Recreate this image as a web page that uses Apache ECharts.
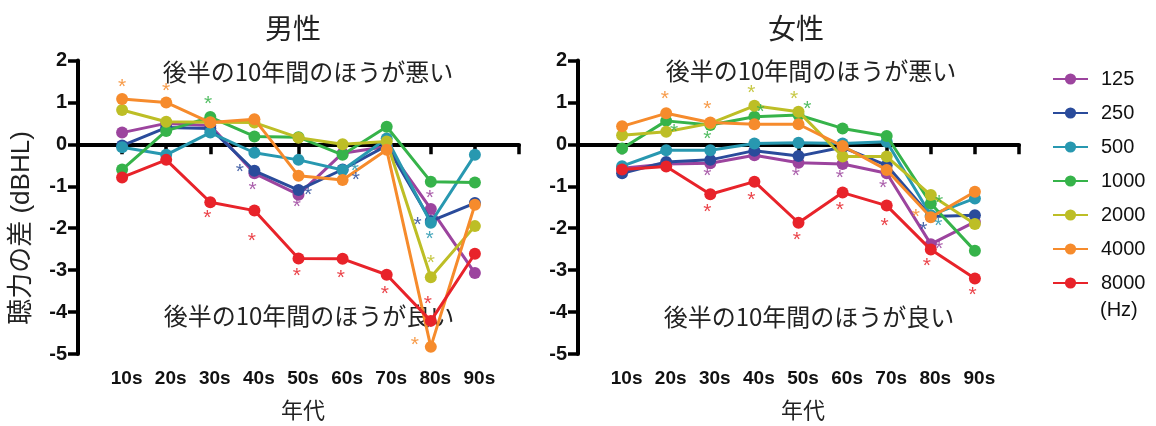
<!DOCTYPE html>
<html>
<head>
<meta charset="utf-8">
<script src="https://cdn.jsdelivr.net/npm/echarts@6/dist/echarts.min.js"></script>
<style>
  html, body { margin: 0; padding: 0; background: #fff; }
  #chart { width: 1156px; height: 426px; }
</style>
</head>
<body>
<div id="chart"></div>
<script>
// 年代 (x 軸のカテゴリ)
var categories = ['10s', '20s', '30s', '40s', '50s', '60s', '70s', '80s', '90s'];
var freqs = ['125', '250', '500', '1000', '2000', '4000', '8000'];
var yTicks = [-5, -4, -3, -2, -1, 0, 1, 2];

// 男性
var male125  = [0.28, 0.50, 0.45, -0.69, -1.20, -0.21, -0.05, -1.54, -3.07];
var male250  = [-0.03, 0.40, 0.38, -0.63, -1.09, -0.60, -0.03, -1.83, -1.40];
var male500  = [-0.07, -0.25, 0.28, -0.20, -0.37, -0.61, 0.14, -1.87, -0.25];
var male1000 = [-0.60, 0.32, 0.65, 0.19, 0.17, -0.25, 0.42, -0.89, -0.91];
var male2000 = [0.82, 0.54, 0.53, 0.52, 0.16, 0.00, 0.07, -3.17, -1.95];
var male4000 = [1.08, 1.00, 0.52, 0.60, -0.75, -0.85, -0.13, -4.83, -1.44];
var male8000 = [-0.79, -0.37, -1.38, -1.58, -2.72, -2.73, -3.11, -4.21, -2.61];

// 女性
var female125  = [-0.57, -0.47, -0.45, -0.26, -0.44, -0.47, -0.69, -2.38, -1.85];
var female250  = [-0.69, -0.42, -0.37, -0.15, -0.28, -0.07, -0.50, -1.72, -1.69];
var female500  = [-0.52, -0.14, -0.14, 0.02, 0.04, 0.02, 0.06, -1.69, -1.29];
var female1000 = [-0.10, 0.56, 0.46, 0.66, 0.70, 0.38, 0.20, -1.41, -2.54];
var female2000 = [0.22, 0.30, 0.50, 0.92, 0.78, -0.29, -0.29, -1.21, -1.90];
var female4000 = [0.43, 0.74, 0.52, 0.48, 0.48, -0.04, -0.61, -1.74, -1.13];
var female8000 = [-0.60, -0.53, -1.19, -0.89, -1.87, -1.15, -1.46, -2.51, -3.20];

// 有意差の * (x = 年代の位置, y = 値, 周波数の番号)
var maleStars = [
  [1.00, 1.44, 5], [2.00, 1.35, 5], [2.95, 1.04, 3], [2.93, -1.69, 6],
  [3.67, -0.60, 1], [3.96, -1.01, 0], [3.94, -2.24, 6],
  [4.96, -1.42, 0], [5.22, -1.15, 1], [4.96, -3.08, 6],
  [6.28, -0.57, 2], [6.30, -0.79, 1], [5.96, -3.12, 6],
  [6.96, -3.50, 6],
  [7.98, -1.21, 0], [7.70, -1.86, 1], [7.97, -2.19, 2], [8.00, -2.76, 4],
  [7.93, -3.74, 6], [7.64, -4.71, 5]
];
var femaleStars = [
  [1.97, 1.15, 5], [2.18, 0.36, 3],
  [2.93, 0.90, 5], [2.93, 0.20, 3], [2.93, -0.69, 0], [2.93, -1.54, 6],
  [3.93, 1.28, 4], [4.14, 0.84, 3], [3.93, -1.25, 6],
  [4.90, 1.15, 4], [5.20, 0.91, 3], [4.94, -0.69, 0], [4.96, -2.22, 6],
  [5.94, -0.73, 0], [5.94, -1.49, 6],
  [6.92, -0.97, 0], [6.95, -1.89, 6],
  [7.66, -1.66, 5], [7.83, -1.97, 1], [8.17, -1.89, 2], [8.19, -1.33, 3],
  [8.19, -2.44, 0], [7.91, -2.83, 6], [8.95, -3.52, 6]
];

var colors = ['#9C449E', '#2A4B9B', '#2898B0', '#36B34A', '#BDBE26', '#F68B2C', '#E8232A'];
var maleData = [male125, male250, male500, male1000, male2000, male4000, male8000];
var femaleData = [female125, female250, female500, female1000, female2000, female4000, female8000];

var latin = 'Liberation Sans';
var cjk = 'Noto Sans CJK JP';
var mixed = '"Liberation Sans", "Noto Sans CJK JP"';

var chart = echarts.init(document.getElementById('chart'));

function xAxisFor(gridIndex) {
  return {
    gridIndex: gridIndex,
    type: 'value',
    min: 0,
    max: categories.length + 1,
    interval: 1,
    axisLine: { lineStyle: { color: '#000', width: 4 } },
    axisTick: { length: 10, lineStyle: { color: '#000', width: 3.5 } },
    splitLine: { show: false },
    axisLabel: {
      color: '#111', fontSize: 19, fontWeight: 'bold', fontFamily: latin,
      margin: 15, padding: [0, 0, 0, 9],
      formatter: function (v) { return categories[v - 1] || ''; }
    },
    name: '年代',
    nameLocation: 'middle',
    nameGap: 45,
    nameTextStyle: { fontSize: 22, fontFamily: cjk, color: '#222', padding: [0, 0, 0, 9] }
  };
}

function yAxisFor(gridIndex) {
  return {
    gridIndex: gridIndex,
    type: 'value',
    min: yTicks[0],
    max: yTicks[yTicks.length - 1],
    interval: 1,
    axisLine: { show: true, lineStyle: { color: '#000', width: 4 } },
    axisTick: { show: true, length: 10, lineStyle: { color: '#000', width: 3.5 } },
    splitLine: { show: false },
    axisLabel: { color: '#111', fontSize: 20, fontWeight: 'bold', fontFamily: latin, margin: 11 }
  };
}

function lineSeries(list, gridIndex) {
  return list.map(function (arr, k) {
    var s = {
      name: freqs[k],
      type: 'line',
      xAxisIndex: gridIndex,
      yAxisIndex: gridIndex,
      data: arr.map(function (v, i) { return [i + 1, v]; }),
      symbol: 'circle',
      symbolSize: 12,
      color: colors[k],
      lineStyle: { width: 3 },
      z: 3 + k,
      animation: false
    };
    if (k === 0) {
      s.markLine = {
        silent: true,
        symbol: 'none',
        label: { show: false },
        lineStyle: { color: '#000', type: [9, 7], width: 2.5 },
        data: [[{ coord: [0.25, 0] }, { coord: [9.55, 0] }]],
        z: 2
      };
    }
    return s;
  });
}

function starSeries(list, gridIndex) {
  return {
    type: 'scatter',
    xAxisIndex: gridIndex,
    yAxisIndex: gridIndex,
    symbolSize: 1,
    itemStyle: { color: 'rgba(0,0,0,0)' },
    silent: true,
    z: 20,
    animation: false,
    data: list.map(function (s) {
      return {
        value: [s[0], s[1]],
        label: {
          show: true, formatter: '*', position: 'inside', offset: [0, 3],
          fontSize: 21, fontFamily: latin, color: colors[s[2]], opacity: 0.85
        }
      };
    })
  };
}

var series = []
  .concat(lineSeries(maleData, 0))
  .concat(lineSeries(femaleData, 1))
  .concat([starSeries(maleStars, 0), starSeries(femaleStars, 1)]);

var textStyle = function (txt, x, y, size) {
  return {
    type: 'text', x: x, y: y, silent: true,
    style: { text: txt, fontSize: size, fontFamily: cjk, fill: '#222', align: 'center', verticalAlign: 'middle' }
  };
};

chart.setOption({
  backgroundColor: '#fff',
  animation: false,
  grid: [
    { left: 78, right: 637, top: 60.5, bottom: 72 },
    { left: 578, right: 137, top: 60.5, bottom: 72 }
  ],
  xAxis: [xAxisFor(0), xAxisFor(1)],
  yAxis: [yAxisFor(0), yAxisFor(1)],
  legend: {
    data: freqs,
    orient: 'vertical',
    left: 1047,
    top: 64,
    itemWidth: 35,
    itemHeight: 14,
    itemGap: 14,
    textStyle: { fontSize: 20, fontFamily: latin, color: '#111', lineHeight: 20, padding: [0, 0, 0, 8] }
  },
  graphic: [
    textStyle('男性', 293, 28, 28),
    textStyle('女性', 796, 28, 28),
    textStyle('後半の10年間のほうが悪い', 308, 72, 24),
    textStyle('後半の10年間のほうが良い', 309, 316, 24),
    textStyle('後半の10年間のほうが悪い', 811, 71, 24),
    textStyle('後半の10年間のほうが良い', 809, 317, 24),
    {
      type: 'text', x: 22, y: 228, rotation: Math.PI / 2, silent: true,
      style: { text: '聴力の差 (dBHL)', fontSize: 26, fontFamily: mixed, fill: '#222', align: 'center', verticalAlign: 'middle' }
    },
    {
      type: 'text', x: 1100, y: 310, silent: true,
      style: { text: '(Hz)', fontSize: 20, fontFamily: latin, fill: '#111', align: 'left', verticalAlign: 'middle' }
    }
  ],
  series: series
});
</script>
</body>
</html>
